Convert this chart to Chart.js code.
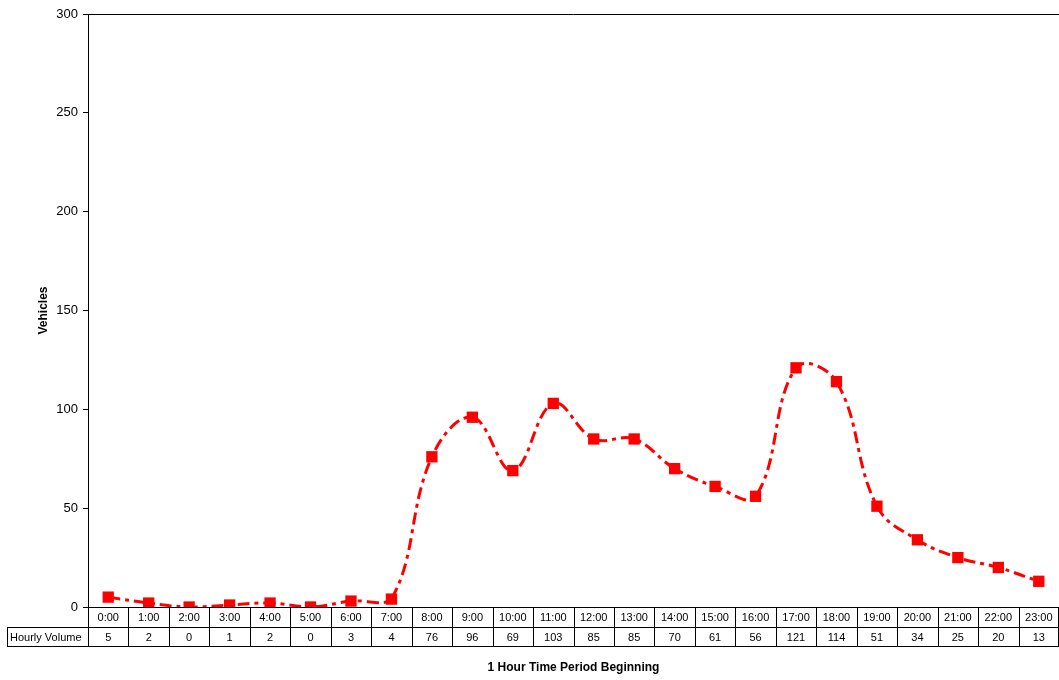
<!DOCTYPE html>
<html>
<head>
<meta charset="utf-8">
<script src="https://cdn.jsdelivr.net/npm/chart.js@4"></script>
<style>
  html, body { margin: 0; padding: 0; background: #fff; }
  #wrap { width: 1059px; height: 680px; }
</style>
</head>
<body>
<div id="wrap"><canvas id="volumeChart" width="1059" height="680"></canvas></div>
<script>
const hours = ['0:00', '1:00', '2:00', '3:00', '4:00', '5:00', '6:00', '7:00', '8:00', '9:00', '10:00', '11:00',
    '12:00', '13:00', '14:00', '15:00', '16:00', '17:00', '18:00', '19:00', '20:00', '21:00', '22:00', '23:00'];
const hourlyVolume = [5, 2, 0, 1, 2, 0, 3, 4, 76, 96, 69, 103, 85, 85, 70, 61, 56, 121, 114, 51, 34, 25, 20, 13];
const rowLabel = 'Hourly Volume';
const yTitle = 'Vehicles';
const xTitle = '1 Hour Time Period Beginning';

const FONT = 'Arial, "Liberation Sans", sans-serif';

// draws the data table under the plot, the top frame line and the x title
const tablePlugin = {
    id: 'dataTable',
    afterDraw(chart) {
        const ctx = chart.ctx;
        const area = chart.chartArea;
        const x = chart.scales.x;
        const n = hours.length;
        const colW = (area.right - area.left) / n;
        const top = area.bottom;
        const mid = top + 20;
        const bot = mid + 19;
        const labelLeft = 7;

        ctx.save();
        ctx.strokeStyle = '#000';
        ctx.lineWidth = 1;

        // top frame
        ctx.beginPath();
        ctx.moveTo(area.left, area.top + 0.5);
        ctx.lineTo(area.right, area.top + 0.5);
        ctx.stroke();

        ctx.beginPath();
        // row separators
        ctx.moveTo(labelLeft, mid + 0.5);
        ctx.lineTo(area.right, mid + 0.5);
        ctx.moveTo(labelLeft, bot + 0.5);
        ctx.lineTo(area.right, bot + 0.5);
        ctx.moveTo(labelLeft + 0.5, mid);
        ctx.lineTo(labelLeft + 0.5, bot);
        // column lines
        for (let i = 0; i <= n; i++) {
            const cx = Math.min(Math.round(area.left + i * colW) + 0.5, area.right - 0.5);
            ctx.moveTo(cx, top);
            ctx.lineTo(cx, bot);
        }
        ctx.stroke();

        ctx.fillStyle = '#000';
        ctx.font = '11px ' + FONT;
        ctx.textAlign = 'center';
        ctx.textBaseline = 'middle';
        hours.forEach((h, i) => {
            const cx = x.getPixelForValue(i);
            ctx.fillText(h, cx, top + 10.5);
            ctx.fillText(String(hourlyVolume[i]), cx, mid + 10.5);
        });
        ctx.textAlign = 'left';
        ctx.fillText(rowLabel, labelLeft + 3, mid + 10.5);

        ctx.font = 'bold 12px ' + FONT;
        ctx.textAlign = 'center';
        ctx.fillText(xTitle, (area.left + area.right) / 2, 668);
        ctx.restore();
    }
};

new Chart(document.getElementById('volumeChart').getContext('2d'), {
    type: 'line',
    data: {
        labels: hours,
        datasets: [{
            label: rowLabel,
            data: hourlyVolume,
            borderColor: '#ff0000',
            backgroundColor: '#ff0000',
            borderWidth: 3,
            borderDash: [12, 5, 4, 5],
            tension: 0.4,
            pointStyle: 'rect',
            pointRadius: 8,
            pointHoverRadius: 8,
            pointBorderWidth: 0,
            fill: false
        }]
    },
    options: {
        responsive: false,
        animation: false,
        events: [],
        layout: { autoPadding: false, padding: { top: 14, right: 0, left: 0, bottom: 0 } },
        plugins: {
            legend: { display: false },
            tooltip: { enabled: false }
        },
        scales: {
            x: {
                offset: true,
                grid: { display: false },
                ticks: { display: false },
                border: { display: true, color: '#000', width: 1 },
                afterFit(scale) { scale.height = 73; }
            },
            y: {
                min: 0,
                max: 300,
                ticks: {
                    stepSize: 50,
                    padding: 5,
                    color: '#000',
                    font: { family: FONT, size: 13 }
                },
                grid: {
                    drawOnChartArea: false,
                    drawTicks: true,
                    tickLength: 5,
                    color: '#000'
                },
                border: { display: true, color: '#000', width: 1 },
                title: {
                    display: true,
                    text: yTitle,
                    color: '#000',
                    font: { family: FONT, size: 12, weight: 'bold' },
                    padding: { top: 36, bottom: 0 }
                },
                afterFit(scale) { scale.width = 88; }
            }
        }
    },
    plugins: [tablePlugin]
});
</script>
</body>
</html>
